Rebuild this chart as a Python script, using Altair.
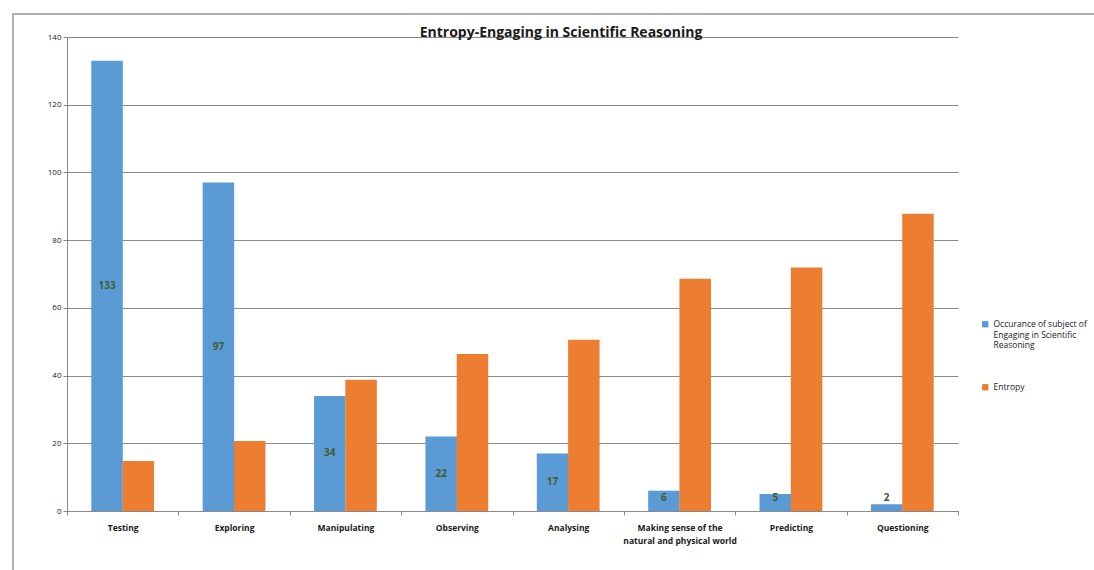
import altair as alt
import pandas as pd

title_text = "Entropy-Engaging in Scientific  Reasoning"
categories = ["Testing", "Exploring", "Manipulating", "Observing", "Analysing",
              "Making sense of the\nnatural and physical world", "Predicting", "Questioning"]
occurrence = [133, 97, 34, 22, 17, 6, 5, 2]
entropy = [14.8, 20.7, 38.8, 46.4, 50.6, 68.6, 71.9, 87.8]
series_names = ["Occurance of subject of Engaging in Scientific Reasoning", "Entropy"]
colors = ["#5B9BD5", "#ED7D31"]

rows = []
for c, o, e in zip(categories, occurrence, entropy):
    rows.append({"cat": c, "series": series_names[0], "value": o})
    rows.append({"cat": c, "series": series_names[1], "value": e})
df = pd.DataFrame(rows)

FONT = "Open Sans"

x_enc = alt.X("cat:N", sort=categories, title=None,
              scale=alt.Scale(paddingInner=0, paddingOuter=0),
              axis=alt.Axis(labelAngle=0, labelExpr="split(datum.label, '\\n')",
                            tickBand="extent", ticks=True, tickSize=4, domain=True,
                            grid=False, labelPadding=8, labelFontSize=8.5,
                            labelFontWeight="bold", labelFont=FONT, labelColor="#1a1a1a",
                            domainColor="#8a8a8a", tickColor="#8a8a8a",
                            labelLineHeight=13))
y_enc = alt.Y("value:Q", title=None,
              scale=alt.Scale(domain=[0, 140], nice=False),
              axis=alt.Axis(values=list(range(0, 141, 20)), tickSize=4, grid=True,
                            gridColor="#8a8a8a", gridWidth=1, domainColor="#8a8a8a",
                            tickColor="#8a8a8a", labelFontSize=8, labelFont=FONT,
                            labelColor="#1a1a1a", labelPadding=2))

bars = alt.Chart(df).mark_bar(size=31.5).encode(
    x=x_enc,
    xOffset=alt.XOffset("series:N", sort=series_names,
                        scale=alt.Scale(paddingInner=0, paddingOuter=0.78)),
    y=y_enc,
    color=alt.Color("series:N", sort=series_names,
                    scale=alt.Scale(domain=series_names, range=colors),
                    legend=alt.Legend(title=None, orient="none", legendX=914, legendY=283,
                                      symbolType="square", symbolSize=40,
                                      symbolStrokeWidth=0, labelFont=FONT,
                                      labelFontSize=8.5, labelColor="#1a1a1a",
                                      labelLimit=200, rowPadding=33,
                                      labelExpr="datum.label == 'Entropy' ? 'Entropy' : ['Occurance of subject of', 'Engaging in Scientific', 'Reasoning']")),
)

labels = alt.Chart(df).transform_filter(
    alt.datum.series == series_names[0]
).transform_calculate(
    ly="max(datum.value / 2, 3.8)"
).mark_text(font=FONT, fontSize=10, fontWeight="bold", color="#3B5E2B").encode(
    x=alt.X("cat:N", sort=categories),
    xOffset=alt.XOffset("series:N", sort=series_names),
    y=alt.Y("ly:Q"),
    text=alt.Text("value:Q"),
)

one = pd.DataFrame({"a": [0]})
frame_left = alt.Chart(one).mark_rule(color="#b0b0b0", strokeWidth=2).encode(
    x=alt.value(-54), y=alt.value(-24), y2=alt.value(540))
frame_top = alt.Chart(one).mark_rule(color="#b0b0b0", strokeWidth=2).encode(
    x=alt.value(-55), x2=alt.value(1040), y=alt.value(-23))
title = alt.Chart(one).mark_text(font=FONT, fontSize=14, fontWeight="bold", color="#1a1a1a",
                                 align="center", baseline="alphabetic").encode(
    x=alt.value(494), y=alt.value(0), text=alt.value(title_text))

chart = alt.layer(frame_left, frame_top, bars, labels, title).properties(
    width=891, height=474,
    autosize=alt.AutoSizeParams(type="none"),
    padding={"left": 67, "top": 37, "right": 136, "bottom": 59},
).configure_view(stroke=None).configure_axis(labelFont=FONT)

chart.save("out.html", embed_options={"renderer": "svg", "actions": False})
